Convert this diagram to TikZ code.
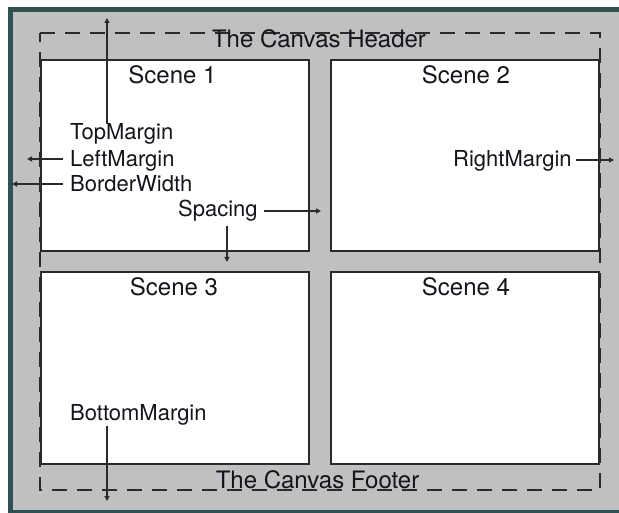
\documentclass[tikz,border=0pt]{standalone}
\usepackage{fontspec}
\setmainfont{TeX Gyre Heros}
\usetikzlibrary{arrows.meta}
\definecolor{frameteal}{HTML}{2F5151}
\definecolor{panelgray}{HTML}{C0C0C0}
\definecolor{inkc}{HTML}{14141C}
\definecolor{linec}{HTML}{2A2A2A}
\tikzset{
  scenebox/.style={draw=linec, line width=1.5pt, fill=white, inner sep=0pt},
  lbl/.style={inner sep=0pt, text=inkc, font=\fontsize{22}{25}\selectfont},
  biglbl/.style={inner sep=0pt, text=inkc, font=\fontsize{24}{27}\selectfont},
  arr/.style={draw=linec, line width=1.3pt, -{Triangle[length=5pt,width=5pt]}},
  canvasdash/.style={draw=linec, line width=1.6pt, dash pattern=on 15pt off 10pt}
}
\begin{document}
\begin{tikzpicture}[x=1pt,y=-1pt]
\useasboundingbox (0,0) rectangle (619,513);
\fill[white] (0,0) rectangle (619,513);
\fill[frameteal] (8,7) rectangle (619,513);
\fill[panelgray] (13,12) rectangle (619,510);

% scenes
\node[scenebox, minimum width=268pt, minimum height=191pt] (s1) at (175,155.5) {};
\node[scenebox, minimum width=268pt, minimum height=191pt] (s2) at (465,155.5) {};
\node[scenebox, minimum width=268pt, minimum height=192pt] (s3) at (175,368) {};
\node[scenebox, minimum width=268pt, minimum height=192pt] (s4) at (465,368) {};

% dashed canvas outline
\draw[canvasdash] (40,33) -- (600,33) -- (600,490) -- (40,490) -- cycle;

% texts
\node[biglbl, anchor=base] (hdr) at (319,48) {The Canvas Header};
\node[biglbl, anchor=base] (ftr) at (317.5,488) {The Canvas Footer};
\node[biglbl, anchor=base] (t1) at (172.5,84) {Scene 1};
\node[biglbl, anchor=base] (t2) at (466,84) {Scene 2};
\node[biglbl, anchor=base] (t3) at (174,296) {Scene 3};
\node[biglbl, anchor=base] (t4) at (466,296) {Scene 4};

\node[lbl, anchor=base west] (tm) at (70,140) {TopMargin};
\node[lbl, anchor=base west] (lm) at (70,167) {LeftMargin};
\node[lbl, anchor=base west] (bw) at (70,192) {BorderWidth};
\node[lbl, anchor=base west] (sp) at (178,217) {Spacing};
\node[lbl, anchor=base west] (rm) at (453,167) {RightMargin};
\node[lbl, anchor=base west] (bm) at (70,420) {BottomMargin};

% arrow tips
\coordinate (tmtip) at (107,18);
\coordinate (lmtip) at (27,159);
\coordinate (bwtip) at (12,184);
\coordinate (sphtip) at (321,211);
\coordinate (spvtip) at (227,262);
\coordinate (rmtip) at (614,160);
\coordinate (bmtip) at (107,501);

% arrows
\draw[arr] (tm.north -| tmtip) -- (tmtip);
\draw[arr, shorten <=7pt] (lm.west |- lmtip) -- (lmtip);
\draw[arr, shorten <=7pt] (bw.west |- bwtip) -- (bwtip);
\draw[arr, shorten <=6pt] (sp.east |- sphtip) -- (sphtip);
\draw[arr, shorten <=4pt] (sp.south -| spvtip) -- (spvtip);
\draw[arr, shorten <=4pt] (rm.east |- rmtip) -- (rmtip);
\draw[arr, shorten <=1pt] (bm.south -| bmtip) -- (bmtip);
\end{tikzpicture}
\end{document}
